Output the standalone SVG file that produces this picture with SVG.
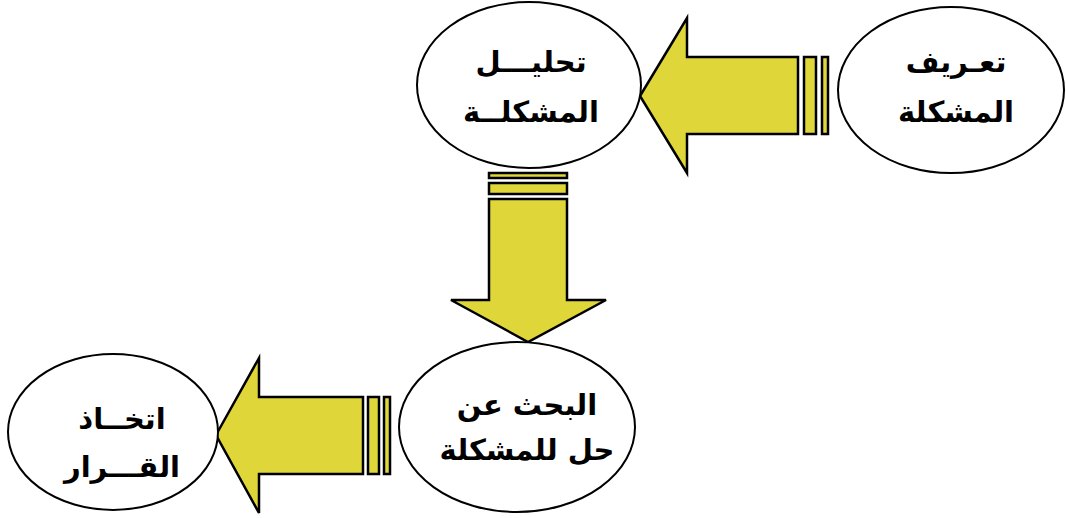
<svg xmlns="http://www.w3.org/2000/svg" width="1066" height="518" viewBox="0 0 1066 518">
<style>
.node ellipse{fill:#fff;stroke:#000;stroke-width:2}
.node text{font-family:"DejaVu Sans","Noto Sans",sans-serif;font-weight:bold;font-size:29px;fill:#000;text-anchor:middle}
.arr{fill:#DFD73A;stroke:#000;stroke-width:2.5;stroke-linejoin:miter}
</style>
<rect width="1066" height="518" fill="#fff"/>
<g id="connectors">
<g id="arrow-1">
<polygon class="arr" points="640,96 687,18 687,57 798,57 798,134 687,134 687,173"/>
<rect class="arr" x="804" y="57" width="12" height="77"/>
<rect class="arr" x="822" y="57" width="6" height="77"/>
</g>
<g id="arrow-2">
<rect class="arr" x="489" y="173" width="78" height="5"/>
<rect class="arr" x="489" y="183" width="78" height="11"/>
<polygon class="arr" points="489,199 567,199 567,300 606,300 528,342 451,300 489,300"/>
</g>
<g id="arrow-3">
<polygon class="arr" points="216,435 259,358 259,397 363,397 363,474 259,474 259,513"/>
<rect class="arr" x="368" y="397" width="11" height="77"/>
<rect class="arr" x="384" y="397" width="6" height="77"/>
</g>
</g>
<g id="node-define" class="node">
<ellipse cx="951" cy="90" rx="113" ry="83"/>
<text x="956" y="72">تعـريف</text>
<text x="956" y="122">المشكلة</text>
</g>
<g id="node-analyze" class="node">
<ellipse cx="529" cy="85" rx="112" ry="83"/>
<text x="531" y="72">تحليـــل</text>
<text x="531" y="122">المشكلــة</text>
</g>
<g id="node-search" class="node">
<ellipse cx="517" cy="427" rx="118" ry="85"/>
<text x="527" y="415">البحث عن</text>
<text x="527" y="460">حل للمشكلة</text>
</g>
<g id="node-decide" class="node">
<ellipse cx="113" cy="432" rx="105" ry="78"/>
<text x="122" y="429">اتخــاذ</text>
<text x="122" y="477">القـــرار</text>
</g>
</svg>
